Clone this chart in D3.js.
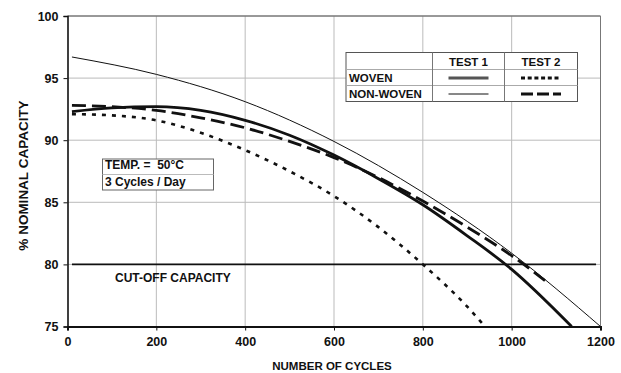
<!DOCTYPE html>
<html>
<head>
<meta charset="utf-8">
<script src="https://cdn.jsdelivr.net/npm/d3@7"></script>
<style>
  body { margin: 0; background: #fff; }
  text { font-family: "Liberation Sans", Arial, sans-serif; font-weight: bold; fill: #111; white-space: pre; }
</style>
</head>
<body>
<script>
// ---- data ----
var xTicks = [0, 200, 400, 600, 800, 1000, 1200]
var yTicks = [75, 80, 85, 90, 95, 100]

var wovenT1X = [10, 100, 200, 300, 400, 500, 600, 700, 800, 900, 1000, 1135]
var wovenT1Y = [92.3, 92.6, 92.7, 92.4, 91.6, 90.4, 88.8, 86.9, 84.8, 82.3, 79.6, 75.0]

var wovenT2X = [10, 100, 200, 300, 400, 500, 600, 700, 800, 900, 940]
var wovenT2Y = [92.1, 92.0, 91.6, 90.6, 89.2, 87.5, 85.5, 83.0, 80.0, 76.6, 75.0]

var nonWovenT1X = [10, 200, 400, 600, 800, 1000, 1200]
var nonWovenT1Y = [96.7, 95.3, 93.1, 89.9, 85.8, 80.9, 75.0]

var nonWovenT2X = [10, 100, 200, 300, 400, 500, 600, 700, 800, 900, 1000, 1075]
var nonWovenT2Y = [92.8, 92.7, 92.4, 91.8, 91.0, 89.9, 88.6, 87.0, 85.1, 83.0, 80.7, 78.7]

var cutOff = 80
var cutOffRange = [10, 1190]

// ---- layout ----
var W = 621, H = 373
var margin = {left: 67.5, right: 20.5, top: 16, bottom: 46}

var svg = d3.select("body").append("svg")
  .attr("width", W).attr("height", H)

var x = d3.scaleLinear().domain([0, 1200]).range([margin.left, W - margin.right])
var y = d3.scaleLinear().domain([75, 100]).range([H - margin.bottom - 0.5, margin.top])

// grid
svg.append("g").selectAll("line").data(xTicks.slice(1))
  .enter().append("line")
  .attr("x1", function (d) { return x(d) }).attr("x2", function (d) { return x(d) })
  .attr("y1", y(75)).attr("y2", y(100))
  .attr("stroke", "#bbb").attr("stroke-width", 1)

svg.append("g").selectAll("line").data(yTicks.slice(1))
  .enter().append("line")
  .attr("x1", x(0)).attr("x2", x(1200))
  .attr("y1", function (d) { return y(d) }).attr("y2", function (d) { return y(d) })
  .attr("stroke", "#bbb").attr("stroke-width", 1)

// frame top / right
svg.append("line").attr("x1", x(0)).attr("x2", x(1200)).attr("y1", y(100)).attr("y2", y(100))
  .attr("stroke", "#555").attr("stroke-width", 1)
svg.append("line").attr("x1", x(1200)).attr("x2", x(1200)).attr("y1", y(100)).attr("y2", y(75))
  .attr("stroke", "#777").attr("stroke-width", 1)

// axes
var xAxis = svg.append("g").attr("transform", "translate(0," + y(75) + ")")
  .call(d3.axisBottom(x).tickValues(xTicks).tickFormat(d3.format("d")).tickSize(4).tickPadding(7))
var yAxis = svg.append("g").attr("transform", "translate(" + x(0) + ",0)")
  .call(d3.axisLeft(y).tickValues(yTicks).tickSize(4).tickPadding(5))

xAxis.select(".domain").attr("stroke", "#111").attr("stroke-width", 2)
yAxis.select(".domain").attr("stroke", "#111").attr("stroke-width", 1.6)
svg.selectAll(".tick line").attr("stroke", "#111")
svg.selectAll(".tick text").style("font-size", "12.5px").style("font-family", "Liberation Sans, Arial, sans-serif")
  .style("font-weight", "bold").attr("fill", "#111")

// axis titles
svg.append("text").attr("x", 332).attr("y", 370)
  .attr("text-anchor", "middle").style("font-size", "11.5px").text("NUMBER OF CYCLES")
svg.append("text").attr("transform", "translate(28,175.5) rotate(-90)")
  .attr("text-anchor", "middle").style("font-size", "13.5px").text("% NOMINAL CAPACITY")

// cut-off
svg.append("line").attr("x1", x(cutOffRange[0])).attr("x2", x(cutOffRange[1]))
  .attr("y1", y(cutOff)).attr("y2", y(cutOff))
  .attr("stroke", "#111").attr("stroke-width", 1.6)
svg.append("text").attr("x", 115).attr("y", 282).style("font-size", "12px").text("CUT-OFF CAPACITY")

// curves
var series = [
  {xs: nonWovenT1X, ys: nonWovenT1Y, w: 1, dash: null},
  {xs: wovenT2X, ys: wovenT2Y, w: 2.6, dash: "4,6"},
  {xs: nonWovenT2X, ys: nonWovenT2Y, w: 2.8, dash: "14,6"},
  {xs: wovenT1X, ys: wovenT1Y, w: 2.8, dash: null}
]

var line = d3.line()
  .x(function (d) { return x(d[0]) })
  .y(function (d) { return y(d[1]) })
  .curve(d3.curveMonotoneX)

var clip = svg.append("clipPath").attr("id", "plot")
clip.append("rect").attr("x", x(0)).attr("y", y(100)).attr("width", x(1200) - x(0)).attr("height", y(75) - y(100))

svg.append("g").attr("clip-path", "url(#plot)").selectAll("path").data(series)
  .enter().append("path")
  .attr("d", function (s) { return line(d3.zip(s.xs, s.ys)) })
  .attr("fill", "none").attr("stroke", "#111")
  .attr("stroke-width", function (s) { return s.w })
  .attr("stroke-dasharray", function (s) { return s.dash })

// temp box
var tb = svg.append("g")
tb.append("rect").attr("x", 102.5).attr("y", 159).attr("width", 111).attr("height", 31)
  .attr("fill", "#fff").attr("stroke", "#666").attr("stroke-width", 1)
tb.append("line").attr("x1", 102.5).attr("x2", 213.5).attr("y1", 174.5).attr("y2", 174.5)
  .attr("stroke", "#bbb")
tb.append("text").attr("x", 105).attr("y", 169).style("font-size", "12px").text("TEMP. =  50°C")
tb.append("text").attr("x", 105).attr("y", 185.5).style("font-size", "12px").text("3 Cycles / Day")

// legend
var lg = svg.append("g")
var colX = [346, 432.5, 504.5, 577.5]
var rowY = [52.5, 69.5, 85.5, 101.5]
lg.append("rect").attr("x", colX[0]).attr("y", rowY[0]).attr("width", colX[3] - colX[0]).attr("height", rowY[3] - rowY[0])
  .attr("fill", "#fff").attr("stroke", "#555")
;[rowY[1], rowY[2]].forEach(function (r) {
  lg.append("line").attr("x1", colX[0]).attr("x2", colX[3]).attr("y1", r).attr("y2", r).attr("stroke", "#aaa")
})
;[colX[1], colX[2]].forEach(function (c) {
  lg.append("line").attr("x1", c).attr("x2", c).attr("y1", rowY[0]).attr("y2", rowY[3]).attr("stroke", "#777")
})
lg.append("text").attr("x", (colX[1] + colX[2]) / 2).attr("y", 66).attr("text-anchor", "middle").style("font-size", "11.5px").text("TEST 1")
lg.append("text").attr("x", (colX[2] + colX[3]) / 2).attr("y", 66).attr("text-anchor", "middle").style("font-size", "11.5px").text("TEST 2")
lg.append("text").attr("x", 349).attr("y", 82).style("font-size", "11.5px").text("WOVEN")
lg.append("text").attr("x", 349).attr("y", 98).style("font-size", "11.5px").text("NON-WOVEN")

var samples = [
  {c: 1, r: 1, w: 3, dash: null, col: "#555"},
  {c: 2, r: 1, w: 3, dash: "4,2.7"},
  {c: 1, r: 2, w: 1, dash: null},
  {c: 2, r: 2, w: 3, dash: "12,4"}
]
lg.selectAll("line.s").data(samples).enter().append("line")
  .attr("x1", function (s) { return (colX[s.c] + colX[s.c + 1]) / 2 - 20 })
  .attr("x2", function (s) { return (colX[s.c] + colX[s.c + 1]) / 2 + 20 })
  .attr("y1", function (s) { return (rowY[s.r] + rowY[s.r + 1]) / 2 + 0.5 })
  .attr("y2", function (s) { return (rowY[s.r] + rowY[s.r + 1]) / 2 + 0.5 })
  .attr("stroke", function (s) { return s.col || "#111" })
  .attr("stroke-width", function (s) { return s.w })
  .attr("stroke-dasharray", function (s) { return s.dash })
</script>
</body>
</html>
